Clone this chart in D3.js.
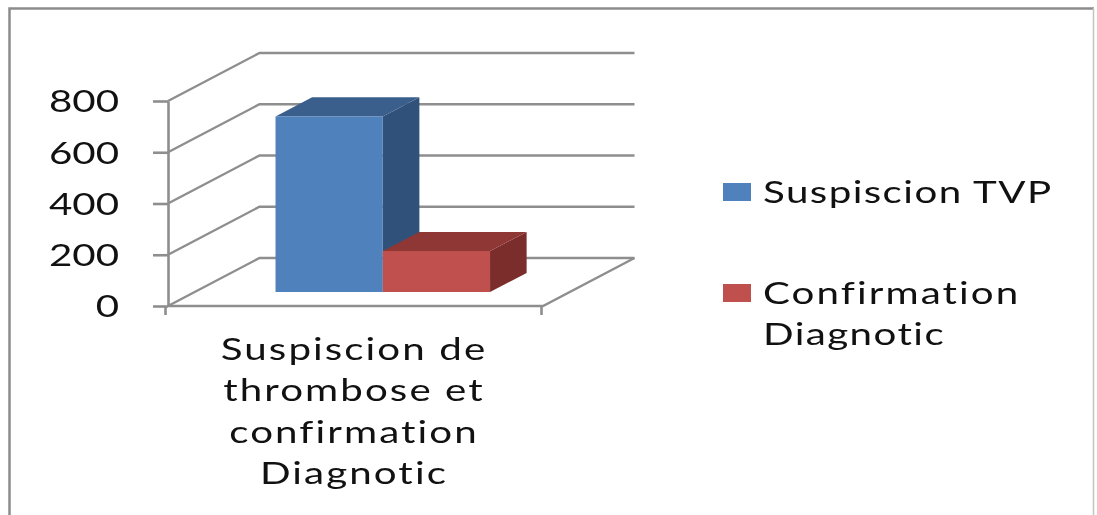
<!DOCTYPE html>
<html><head><meta charset="utf-8">
<script src="https://cdn.jsdelivr.net/npm/d3@7"></script>
<style>
html,body{margin:0;padding:0;background:#fff;overflow:hidden}
svg{display:block;filter:blur(0.7px)}
text{font-family:Lato,"Open Sans",sans-serif;fill:#111;font-variant-ligatures:none;letter-spacing:1.1px}
text.wide{letter-spacing:1.6px}
</style></head><body>
<svg id="c" width="1097" height="515"></svg>
<script>
const categories = ["Suspiscion de thrombose et confirmation Diagnotic"];
const categoryLines = ["Suspiscion de","thrombose et","confirmation","Diagnotic"];
const seriesNames = ["Suspiscion TVP","Confirmation Diagnotic"];
const seriesValues = [685,160];
const yTicks = [0,200,400,600,800];
const blues = {front:"#4f81bd",top:"#3a5f8d",side:"#30527a"};
const reds = {front:"#c0504d",top:"#8e3735",side:"#7b2d2b"};
const palette = [blues,reds];

const svg = d3.select("#c");
const FS = 31, SX = 1.3;
const grid = "#8e8e8e";

// frame
svg.append("path").attr("d","M9.5,515V8.5H1094").attr("fill","none").attr("stroke","#8c8c8c").attr("stroke-width",2.5);
svg.append("path").attr("d","M1093.5,8V515").attr("fill","none").attr("stroke","#c4c4c4").attr("stroke-width",1.5);

// scales (front plane) and depth projection
const y = d3.scaleLinear().domain([0,800]).range([306,101]);
const x0 = d3.scaleBand().domain(categories).range([168,543]);
const px = d3.scaleLinear().domain([0,1]).range([0,91.5]);
const py = d3.scaleLinear().domain([0,1]).range([0,-48]);
const pt = (x,v,d)=>[x+px(d), y(v)+py(d)];
const line = d3.line();

// walls & floor gridlines
const g = svg.append("g").attr("fill","none").attr("stroke",grid).attr("stroke-width",2.4);
yTicks.forEach(t=>{
  g.append("path").attr("d",line([pt(x0.range()[0],t,0),pt(x0.range()[0],t,1),pt(x0.range()[1],t,1)]));
});
g.append("path").attr("d",line([pt(x0.range()[0],0,0),pt(x0.range()[1],0,0),pt(x0.range()[1],0,1)]));

// y axis
const ay = svg.append("g").attr("transform","translate(168,0)").call(d3.axisLeft(y).tickValues(yTicks).tickSize(15).tickSizeOuter(0).tickFormat(d3.format("d")));
ay.selectAll("path,line").attr("stroke",grid).attr("stroke-width",2.6);
ay.selectAll("text").attr("font-size",FS).attr("text-anchor","end").attr("font-family","Lato")
  .attr("x",0).attr("dy","0.35em").attr("fill","#111").style("letter-spacing","0px")
  .attr("transform",`translate(-49,0) scale(${SX},1)`);

// x axis
const ax = svg.append("g").attr("transform","translate(0,306)").call(d3.axisBottom(d3.scaleLinear().domain([0,1]).range([165,541])).tickValues([0,1]).tickSize(9).tickSizeOuter(0).tickFormat(""));
ax.select("path").remove();
ax.selectAll("line").attr("stroke",grid).attr("stroke-width",2.6);
categoryLines.forEach((l,i)=>{
  svg.append("text").attr("class","wide").attr("text-anchor","middle").attr("font-size",FS)
    .attr("transform",`translate(354,${360+i*41.3}) scale(${SX},1)`).text(l);
});

// bars
const xs = d3.scaleBand().domain(seriesNames).range([249,463.5]);
const d0=0.29,d1=0.69;
const poly = (pts,f)=>svg.append("polygon").attr("points",pts.map(p=>p.join(",")).join(" ")).attr("fill",f);
seriesNames.forEach((n,i)=>{
  const l=xs(n), r=l+xs.bandwidth(), v=seriesValues[i], c=palette[i];
  poly([pt(r,0,d0),pt(r,0,d1),pt(r,v,d1),pt(r,v,d0)],c.side);
  poly([pt(l,v,d0),pt(r,v,d0),pt(r,v,d1),pt(l,v,d1)],c.top);
  poly([pt(l,0,d0),pt(r,0,d0),pt(r,v,d0),pt(l,v,d0)],c.front);
});

// legend
const legendY=[192,293];
seriesNames.forEach((n,i)=>{
  svg.append("rect").attr("x",723).attr("y",legendY[i]-9).attr("width",28).attr("height",18).attr("fill",palette[i].front);
});
const legendText=[["Suspiscion TVP"],["Confirmation","Diagnotic"]];
legendText.forEach((ls,i)=>ls.forEach((l,j)=>{
  svg.append("text").attr("class",i===1&&j===0?"wide":null).attr("font-size",FS)
    .attr("transform",`translate(763,${legendY[i]+11+j*41}) scale(${SX},1)`).text(l);
}));
</script></body></html>
